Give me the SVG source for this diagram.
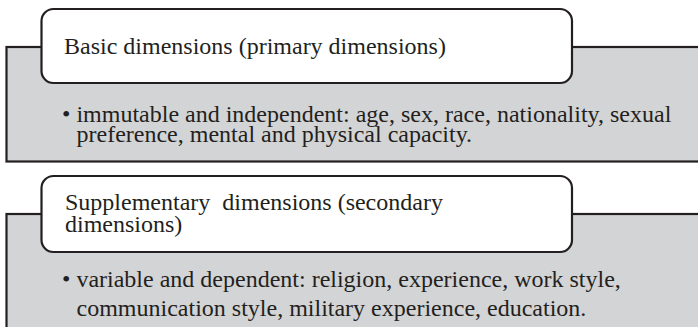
<svg xmlns="http://www.w3.org/2000/svg" width="698" height="327" viewBox="0 0 698 327">
<style>
.panel{fill:#d3d4d6;stroke:#231f20;stroke-width:2.2}
.head{fill:#ffffff;stroke:#231f20;stroke-width:2.2}
text{font-family:"Liberation Serif","Times New Roman",serif;font-size:24px;fill:#231f20}
</style>
<rect width="698" height="327" fill="#ffffff"/>
<g id="basic">
<rect class="panel" x="6.5" y="47" width="720" height="114.5"/>
<rect class="head" x="41.5" y="9" width="530.5" height="74" rx="12"/>
<text x="64" y="54">Basic dimensions (primary dimensions)</text>
<text x="62" y="121.7">• immutable and independent: age, sex, race, nationality, sexual<tspan x="76.5" y="141.7">preference, mental and physical capacity.</tspan></text>
</g>
<g id="supplementary">
<rect class="panel" x="6.5" y="214" width="720" height="140"/>
<rect class="head" x="41.5" y="176" width="530.5" height="76" rx="12"/>
<text x="65" y="210" xml:space="preserve">Supplementary  dimensions (secondary<tspan x="65" y="231.5">dimensions)</tspan></text>
<text x="62" y="286.5">• variable and dependent: religion, experience, work style,<tspan x="76.5" y="315.5">communication style, military experience, education.</tspan></text>
</g>
<g id="connectors"></g>
</svg>
